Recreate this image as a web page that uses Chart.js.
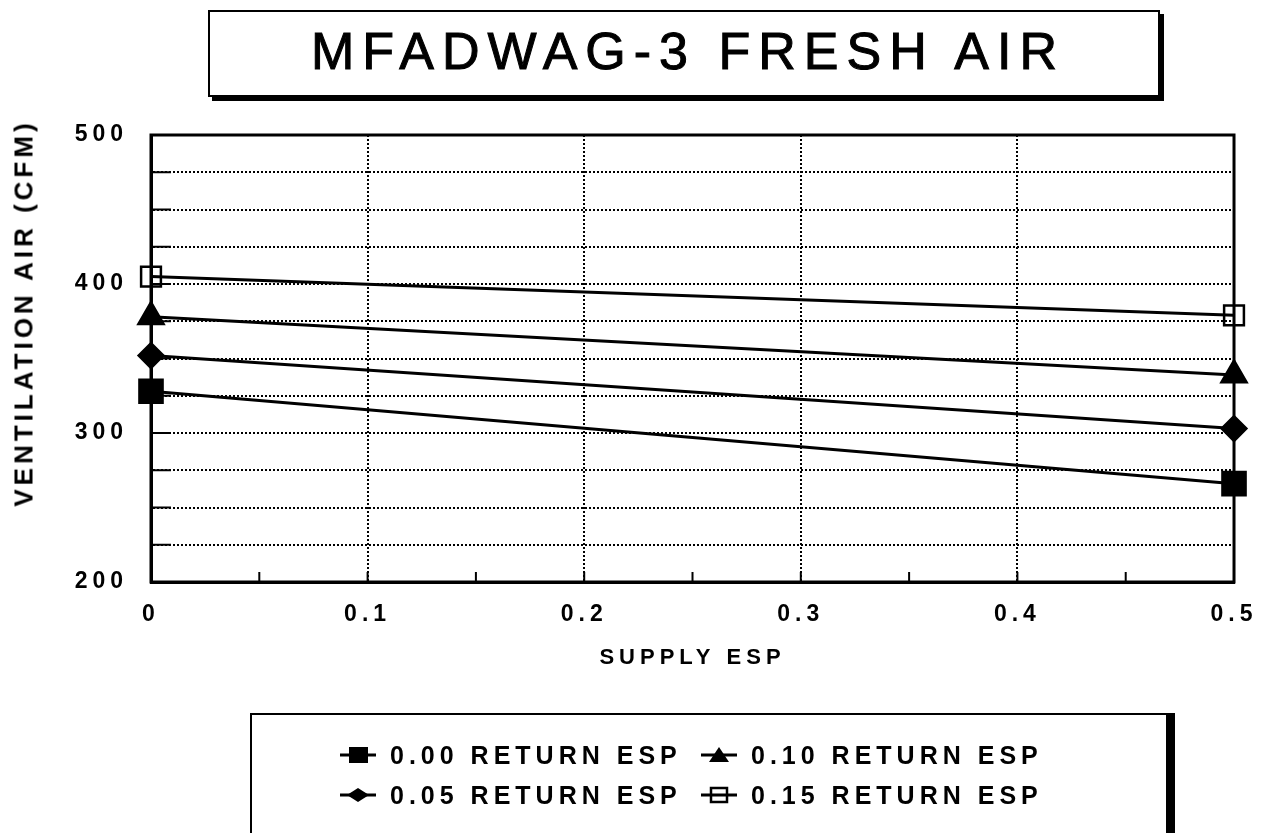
<!DOCTYPE html>
<html>
<head>
<meta charset="utf-8">
<script src="https://cdn.jsdelivr.net/npm/chart.js@4.4.0/dist/chart.umd.min.js"></script>
<style>
    html, body { margin: 0; padding: 0; background: #fff; }
    body {
        width: 1269px; height: 833px; position: relative; overflow: hidden;
        font-family: "Liberation Sans", Arial, sans-serif; color: #000;
    }
    #chartBox { position: absolute; left: 0; top: 0; width: 1269px; height: 833px; }
    #titleBox {
        position: absolute; left: 208px; top: 10px; width: 952px; height: 87px;
        box-sizing: border-box; border: 2px solid #000; box-shadow: 4px 4px 0 #000;
        background: #fff; text-align: center;
    }
    #titleBox span {
        display: block; font-size: 52px; font-weight: normal; letter-spacing: 8px;
        line-height: 78px; padding-left: 8px; -webkit-text-stroke: 1px #000;
    }
    #yTitle {
        position: absolute; left: 24px; top: 313px; white-space: nowrap;
        transform: translate(-50%, -50%) rotate(-90deg);
        font-size: 26px; font-weight: bold; letter-spacing: 4px;
    }
    #legendBox {
        position: absolute; left: 250px; top: 713px; width: 918px; height: 150px;
        box-sizing: border-box; border: 2px solid #000; box-shadow: 7px 0 0 #000;
        background: #fff;
    }
    .item {
        position: absolute; height: 30px; display: flex; align-items: center;
        font-size: 25px; font-weight: bold; letter-spacing: 5px; white-space: nowrap;
    }
    .item svg { margin-right: 14px; }
</style>
</head>
<body>
<div id="chartBox"><canvas id="chart"></canvas></div>
<div id="titleBox"><span>MFADWAG-3 FRESH AIR</span></div>
<div id="yTitle">VENTILATION AIR (CFM)</div>
<div id="legendBox"></div>

<script>
// chart data
const supplyEsp = [0, 0.5];
const returnLabels = ["0.00 RETURN ESP", "0.05 RETURN ESP", "0.10 RETURN ESP", "0.15 RETURN ESP"];
const ret000 = [328, 266];
const ret005 = [352, 303];
const ret010 = [378, 339];
const ret015 = [405, 379];
const yTicks = [200, 300, 400, 500];
const xTicks = [0, 0.1, 0.2, 0.3, 0.4, 0.5];

function pts(vals) {
    return vals.map((v, i) => ({ x: supplyEsp[i], y: v }));
}

// legend in the lower box (2 x 2, row-wise like the original)
const legendPlaces = [
    { i: 0, left: 88, top: 25 },
    { i: 2, left: 449, top: 25 },
    { i: 1, left: 88, top: 65 },
    { i: 3, left: 449, top: 65 },
];
const markerSvg = [
    '<rect x="9" y="4" width="19" height="16" fill="#000"/>',
    '<path d="M7 12 L18 5 L29 12 L18 19 Z" fill="#000"/>',
    '<path d="M8 19 L18 4 L28 19 Z" fill="#000"/>',
    '<rect x="10" y="5" width="16" height="14" fill="none" stroke="#000" stroke-width="2.5"/>',
];
const legendBox = document.getElementById("legendBox");
legendPlaces.forEach((p) => {
    const el = document.createElement("div");
    el.className = "item";
    el.style.left = p.left + "px";
    el.style.top = p.top + "px";
    el.innerHTML = '<svg width="36" height="24" viewBox="0 0 36 24">' +
        '<line x1="0" y1="12" x2="36" y2="12" stroke="#000" stroke-width="3"/>' +
        markerSvg[p.i] + '</svg><span>' + returnLabels[p.i] + '</span>';
    legendBox.appendChild(el);
});

// solid frame on top/right plus the short tick stubs
const frameStubs = {
    id: "frameStubs",
    beforeDraw(chart) {
        chart.ctx.letterSpacing = "5px";
    },
    beforeDatasetsDraw(chart) {
        const { ctx, chartArea: a, scales } = chart;
        ctx.save();
        ctx.letterSpacing = "0px";
        ctx.strokeStyle = "#000";
        ctx.lineWidth = 3;
        ctx.strokeRect(a.left, a.top, a.right - a.left, a.bottom - a.top);
        ctx.lineWidth = 2;
        ctx.beginPath();
        scales.y.ticks.forEach((t) => {
            const py = scales.y.getPixelForValue(t.value);
            ctx.moveTo(a.left, py);
            ctx.lineTo(a.left + 20, py);
        });
        scales.x.ticks.forEach((t) => {
            const px = scales.x.getPixelForValue(t.value);
            ctx.moveTo(px, a.bottom);
            ctx.lineTo(px, a.bottom - 10);
        });
        ctx.stroke();
        ctx.restore();
    },
    afterDraw(chart) {
        chart.ctx.letterSpacing = "0px";
    },
};

const tickFont = { family: "'Liberation Sans', Arial, sans-serif", size: 23, weight: "bold" };

const ctx = document.getElementById("chart");
new Chart(ctx, {
    type: "line",
    data: {
        datasets: [
            { label: returnLabels[0], data: pts(ret000), pointStyle: "rect", pointRadius: 16, backgroundColor: "#000" },
            { label: returnLabels[1], data: pts(ret005), pointStyle: "rectRot", pointRadius: 12, backgroundColor: "#000" },
            { label: returnLabels[2], data: pts(ret010), pointStyle: "triangle", pointRadius: 14, backgroundColor: "#000" },
            { label: returnLabels[3], data: pts(ret015), pointStyle: "rect", pointRadius: 14, backgroundColor: "rgba(0,0,0,0)", pointBorderWidth: 2.5 },
        ].map((d) => Object.assign({
            borderColor: "#000",
            borderWidth: 3,
            pointBorderColor: "#000",
            tension: 0,
            clip: false,
        }, d)),
    },
    options: {
        responsive: true,
        maintainAspectRatio: false,
        animation: false,
        layout: { padding: { top: 135, right: 29, bottom: 151, left: 0 } },
        plugins: { legend: { display: false }, tooltip: { enabled: false } },
        scales: {
            x: {
                type: "linear",
                min: 0,
                max: 0.5,
                ticks: {
                    stepSize: 0.05,
                    padding: 19,
                    color: "#000",
                    font: tickFont,
                    maxRotation: 0,
                    autoSkip: false,
                    callback: (v) => {
                        const k = Math.round(v * 100);
                        if (k % 10 !== 0) return "";
                        const t = xTicks.find((x) => Math.round(x * 100) === k);
                        return t === undefined ? "" : String(t);
                    },
                },
                grid: {
                    drawTicks: false,
                    lineWidth: 2,
                    color: (c) => {
                        const k = Math.round(c.tick.value * 100);
                        return (k % 10 === 0 && k > 0 && k < 50) ? "#000" : "rgba(0,0,0,0)";
                    },
                },
                border: { color: "#000", width: 3, dash: [2, 2] },
                title: {
                    display: true,
                    text: "SUPPLY ESP",
                    color: "#000",
                    font: { family: "'Liberation Sans', Arial, sans-serif", size: 22, weight: "bold" },
                    padding: { top: 0, bottom: 11 },
                },
                afterFit: (s) => { s.height = 100; },
            },
            y: {
                min: 200,
                max: 500,
                ticks: {
                    stepSize: 25,
                    padding: 23,
                    color: "#000",
                    font: tickFont,
                    autoSkip: false,
                    callback: (v) => (yTicks.includes(v) ? String(v) : ""),
                },
                grid: {
                    drawTicks: false,
                    lineWidth: 2,
                    color: (c) => (c.tick.value > 200 && c.tick.value < 500 ? "#000" : "rgba(0,0,0,0)"),
                },
                border: { color: "#000", width: 3, dash: [2, 2] },
                afterFit: (s) => { s.width = 151; },
            },
        },
    },
    plugins: [frameStubs],
});
</script>
</body>
</html>
